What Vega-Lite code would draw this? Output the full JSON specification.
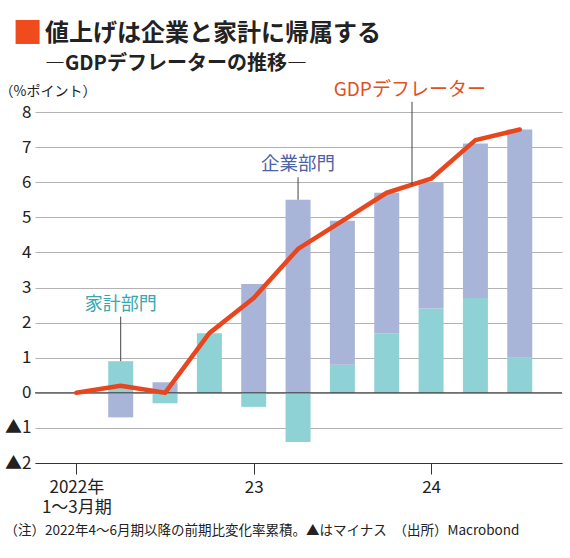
{
  "$schema": "https://vega.github.io/schema/vega-lite/v6.json",
  "width": 527,
  "height": 351,
  "autosize": {"type": "none"},
  "padding": {"left": 35, "top": 112, "right": 8, "bottom": 95},
  "background": "white",
  "title": {
    "text": "値上げは企業と家計に帰属する",
    "subtitle": "―GDPデフレーターの推移―",
    "anchor": "start",
    "frame": "group",
    "dx": 10,
    "dy": 68,
    "offset": 14,
    "font": "Noto Sans CJK JP",
    "fontSize": 24,
    "fontWeight": "bold",
    "color": "#222222",
    "subtitleFont": "Noto Sans CJK JP",
    "subtitleFontSize": 20,
    "subtitleFontWeight": "bold",
    "subtitleColor": "#222222",
    "subtitlePadding": 8
  },
  "config": {
    "view": {"stroke": null},
    "font": "Noto Sans CJK JP"
  },
  "datasets": {
    "sectors": [
      {"i": 0, "sector": "家計部門", "o": 1, "value": 0},
      {"i": 0, "sector": "企業部門", "o": 2, "value": 0},
      {"i": 1, "sector": "家計部門", "o": 1, "value": 0.9},
      {"i": 1, "sector": "企業部門", "o": 2, "value": -0.7},
      {"i": 2, "sector": "家計部門", "o": 1, "value": -0.3},
      {"i": 2, "sector": "企業部門", "o": 2, "value": 0.3},
      {"i": 3, "sector": "家計部門", "o": 1, "value": 1.7},
      {"i": 3, "sector": "企業部門", "o": 2, "value": 0},
      {"i": 4, "sector": "家計部門", "o": 1, "value": -0.4},
      {"i": 4, "sector": "企業部門", "o": 2, "value": 3.1},
      {"i": 5, "sector": "家計部門", "o": 1, "value": -1.4},
      {"i": 5, "sector": "企業部門", "o": 2, "value": 5.5},
      {"i": 6, "sector": "家計部門", "o": 1, "value": 0.8},
      {"i": 6, "sector": "企業部門", "o": 2, "value": 4.1},
      {"i": 7, "sector": "家計部門", "o": 1, "value": 1.7},
      {"i": 7, "sector": "企業部門", "o": 2, "value": 4.0},
      {"i": 8, "sector": "家計部門", "o": 1, "value": 2.4},
      {"i": 8, "sector": "企業部門", "o": 2, "value": 3.6},
      {"i": 9, "sector": "家計部門", "o": 1, "value": 2.7},
      {"i": 9, "sector": "企業部門", "o": 2, "value": 4.4},
      {"i": 10, "sector": "家計部門", "o": 1, "value": 1.0},
      {"i": 10, "sector": "企業部門", "o": 2, "value": 6.5}
    ],
    "deflator": [
      {"i": 0, "value": 0},
      {"i": 1, "value": 0.2},
      {"i": 2, "value": 0.0},
      {"i": 3, "value": 1.7},
      {"i": 4, "value": 2.7},
      {"i": 5, "value": 4.1},
      {"i": 6, "value": 4.9},
      {"i": 7, "value": 5.7},
      {"i": 8, "value": 6.1},
      {"i": 9, "value": 7.2},
      {"i": 10, "value": 7.5}
    ],
    "one": [{}]
  },
  "encoding": {
    "x": {
      "type": "quantitative",
      "scale": {"domain": [-0.82, 10.84], "nice": false, "zero": false},
      "axis": {
        "values": [0, 4, 8],
        "grid": false,
        "domainColor": "#333333",
        "tickColor": "#333333",
        "tickSize": 11,
        "labelFontSize": 17,
        "labelColor": "#222222",
        "labelPadding": 5,
        "labelLineHeight": 20,
        "labelExpr": "datum.value == 0 ? ['2022年', '1〜3月期'] : datum.value == 4 ? '23' : '24'",
        "title": "（注）2022年4〜6月期以降の前期比変化率累積。▲はマイナス　（出所）Macrobond",
        "titleFontSize": 13.5,
        "titleFontWeight": "normal",
        "titleColor": "#222222",
        "titleAnchor": "start",
        "titleAlign": "left",
        "titleBaseline": "middle",
        "titleX": -31,
        "titleY": 67
      }
    },
    "y": {
      "type": "quantitative",
      "scale": {"domain": [-2, 8], "nice": false},
      "axis": {
        "values": [-2, -1, 0, 1, 2, 3, 4, 5, 6, 7, 8],
        "domain": false,
        "ticks": false,
        "gridColor": "#b3b3b3",
        "labelFontSize": 17,
        "labelColor": "#222222",
        "labelPadding": 4,
        "labelExpr": "datum.value < 0 ? '▲' + abs(datum.value) : datum.value",
        "title": "（%ポイント）",
        "titleAngle": 0,
        "titleFontSize": 14,
        "titleFontWeight": "normal",
        "titleColor": "#222222",
        "titleAlign": "left",
        "titleBaseline": "middle",
        "titleX": -36,
        "titleY": -21
      }
    }
  },
  "layer": [
    {
      "data": {"name": "sectors"},
      "mark": {"type": "bar", "size": 25},
      "encoding": {
        "x": {"field": "i"},
        "y": {"field": "value", "stack": "zero"},
        "order": {"field": "o"},
        "color": {
          "field": "sector",
          "type": "nominal",
          "scale": {"domain": ["家計部門", "企業部門"], "range": ["#8ed2d6", "#a9b4d9"]},
          "legend": null
        }
      }
    },
    {
      "data": {"name": "one"},
      "mark": {"type": "rule", "color": "#333333", "strokeWidth": 1},
      "encoding": {"y": {"datum": 0, "type": "quantitative"}}
    },
    {
      "data": {"name": "deflator"},
      "mark": {"type": "line", "color": "#e8461e", "strokeWidth": 4.5, "strokeCap": "round", "strokeJoin": "round"},
      "encoding": {
        "x": {"field": "i"},
        "y": {"field": "value"}
      }
    },
    {
      "data": {"name": "one"},
      "mark": {"type": "rule", "color": "#444444", "strokeWidth": 1},
      "encoding": {
        "x": {"datum": 1, "type": "quantitative"},
        "y": {"datum": 0.9, "type": "quantitative"},
        "y2": {"datum": 2.17}
      }
    },
    {
      "data": {"name": "one"},
      "mark": {"type": "rule", "color": "#444444", "strokeWidth": 1},
      "encoding": {
        "x": {"datum": 5, "type": "quantitative"},
        "y": {"datum": 5.5, "type": "quantitative"},
        "y2": {"datum": 6.14}
      }
    },
    {
      "data": {"name": "one"},
      "mark": {"type": "rule", "color": "#444444", "strokeWidth": 1},
      "encoding": {
        "x": {"datum": 7.57, "type": "quantitative"},
        "y": {"datum": 5.92, "type": "quantitative"},
        "y2": {"datum": 8.29}
      }
    },
    {
      "data": {"name": "one"},
      "mark": {"type": "text", "color": "#3aa6ad", "fontSize": 18, "baseline": "middle", "align": "center"},
      "encoding": {
        "x": {"datum": 1, "type": "quantitative"},
        "y": {"datum": 2.5, "type": "quantitative"},
        "text": {"value": "家計部門"}
      }
    },
    {
      "data": {"name": "one"},
      "mark": {"type": "text", "color": "#4d62a3", "fontSize": 18.5, "baseline": "middle", "align": "center"},
      "encoding": {
        "x": {"datum": 5, "type": "quantitative"},
        "y": {"datum": 6.51, "type": "quantitative"},
        "text": {"value": "企業部門"}
      }
    },
    {
      "data": {"name": "one"},
      "mark": {"type": "text", "color": "#e1501f", "fontSize": 19, "baseline": "middle", "align": "center"},
      "encoding": {
        "x": {"datum": 7.52, "type": "quantitative"},
        "y": {"datum": 8.63, "type": "quantitative"},
        "text": {"value": "GDPデフレーター"}
      }
    },
    {
      "data": {"name": "one"},
      "mark": {"type": "square", "size": 576, "color": "#f04b1c", "opacity": 1, "filled": true},
      "encoding": {
        "x": {"datum": -1.1, "type": "quantitative"},
        "y": {"datum": 10.28, "type": "quantitative"}
      }
    }
  ]
}
